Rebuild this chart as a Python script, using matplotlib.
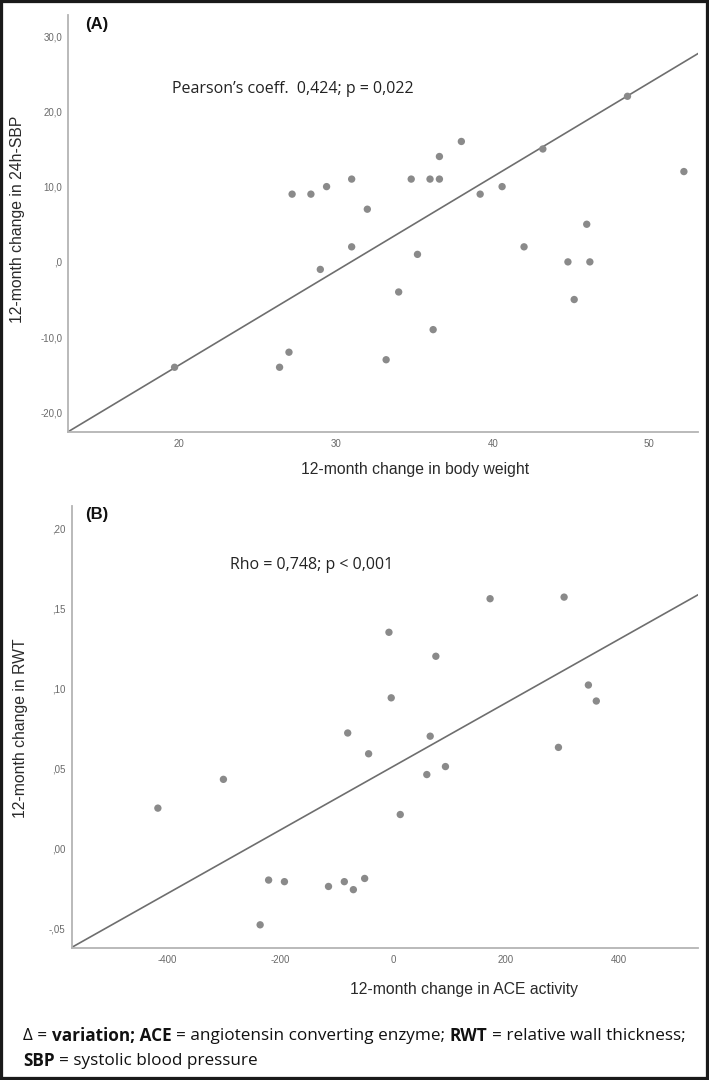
import matplotlib
matplotlib.use('Agg')
import matplotlib.pyplot as plt
from matplotlib.patches import Rectangle

# panel A data: 12-month change in body weight vs 24h-SBP
bw_change = [48.6, 38.0, 36.6, 43.2, 52.2, 27.2, 28.4, 29.4, 31.0, 34.8, 36.0, 36.6, 32.0, 39.2, 40.6,
             46.0, 31.0, 35.2, 42.0, 29.0, 44.8, 46.2, 34.0, 45.2, 36.2, 27.0, 26.4, 33.2, 19.7]
sbp_change = [22, 16, 14, 15, 12, 9, 9, 10, 11, 11, 11, 11, 7, 9, 10,
              5, 2, 1, 2, -1, 0, 0, -4, -5, -9, -12, -14, -13, -14]
line_a_slope = 1.25
line_a_intercept = -38.7
xticks_a = [20, 30, 40, 50]
xticklabels_a = ['20', '30', '40', '50']
yticks_a = [-20, -10, 0, 10, 20, 30]
yticklabels_a = ['-20,0', '-10,0', ',0', '10,0', '20,0', '30,0']

# panel B data: 12-month change in ACE activity vs RWT
ace_change = [172, 303, -7, 76, -3, 346, 360, -80, 66, 293, -43, 60, 93, -300, -416, 13,
              -220, -192, -114, -86, -70, -50, -235]
rwt_change = [0.156, 0.157, 0.135, 0.120, 0.094, 0.102, 0.092, 0.072, 0.070, 0.063, 0.059, 0.046,
              0.051, 0.043, 0.025, 0.021, -0.020, -0.021, -0.024, -0.021, -0.026, -0.019, -0.048]
line_b_slope = 0.000199
line_b_intercept = 0.051
xticks_b = [-400, -200, 0, 200, 400]
xticklabels_b = ['-400', '-200', '0', '200', '400']
yticks_b = [-0.05, 0.0, 0.05, 0.10, 0.15, 0.20]
yticklabels_b = ['-,05', ',00', ',05', ',10', ',15', ',20']

W, H = 709, 1080
fig = plt.figure(figsize=(W / 100, H / 100), dpi=100)
fig.patch.set_facecolor('white')

dot_color = '#8a8a8a'
line_color = '#6e6e6e'
spine_color = '#b4b4b4'
tick_color = '#6a6a6a'
label_color = '#2a2a2a'


def px_axes(left, top, right, bottom):
    return fig.add_axes([left / W, 1 - bottom / H, (right - left) / W, (bottom - top) / H])


def style(ax, xt, xtl, yt, ytl, ypad):
    for s in ['top', 'right']:
        ax.spines[s].set_visible(False)
    for s in ['left', 'bottom']:
        ax.spines[s].set_color(spine_color)
        ax.spines[s].set_linewidth(1.3)
    ax.set_xticks(xt)
    ax.set_xticklabels(xtl)
    ax.set_yticks(yt)
    ax.set_yticklabels(ytl)
    ax.tick_params(axis='both', length=0, labelsize=7, labelcolor=tick_color)
    ax.tick_params(axis='x', pad=5)
    ax.tick_params(axis='y', pad=ypad)
    for lab in ax.get_xticklabels() + ax.get_yticklabels():
        lab.set_family('Liberation Sans')


# panel A
axA = px_axes(68, 15, 698, 432)
axA.set_xlim(12.9, 53.1)
axA.set_ylim(-22.6, 32.8)
axA.axline((0, line_a_intercept), slope=line_a_slope, color=line_color, lw=1.2, zorder=2)
axA.scatter(bw_change, sbp_change, s=28, color=dot_color, edgecolors='none', zorder=3)
style(axA, xticks_a, xticklabels_a, yticks_a, yticklabels_a, 4)
axA.text(0.551, -0.091, '12-month change in body weight', transform=axA.transAxes,
         ha='center', va='center', fontsize=11.3, color=label_color, family='Liberation Sans')
axA.text(-0.0794, 0.511, '12-month change in 24h-SBP', transform=axA.transAxes, rotation=90,
         ha='center', va='center', fontsize=11.3, color=label_color, family='Liberation Sans')

# panel B
axB = px_axes(72, 506, 698, 948)
axB.set_xlim(-568, 540)
axB.set_ylim(-0.0625, 0.214)
axB.axline((0, line_b_intercept), slope=line_b_slope, color=line_color, lw=1.2, zorder=2)
axB.scatter(ace_change, rwt_change, s=28, color=dot_color, edgecolors='none', zorder=3)
style(axB, xticks_b, xticklabels_b, yticks_b, yticklabels_b, 5)
axB.text(0.626, -0.095, '12-month change in ACE activity', transform=axB.transAxes,
         ha='center', va='center', fontsize=11.3, color=label_color, family='Liberation Sans')
axB.text(-0.083, 0.498, '12-month change in RWT', transform=axB.transAxes, rotation=90,
         ha='center', va='center', fontsize=11.3, color=label_color, family='Liberation Sans')

# panel tags and stats
fig.text(97 / W, 1 - 25 / H, '(A)', ha='center', va='center', fontsize=12, fontweight='bold',
         family='Liberation Sans', color='#111111')
fig.text(97 / W, 1 - 515 / H, '(B)', ha='center', va='center', fontsize=12, fontweight='bold',
         family='Liberation Sans', color='#111111')
fig.text(172 / W, 1 - 89 / H, "Pearson\u2019s coeff.  0,424; p = 0,022", ha='left', va='center',
         fontsize=11.5, family='Open Sans', color='#222222')
fig.text(230 / W, 1 - 565 / H, 'Rho = 0,748; p < 0,001', ha='left', va='center',
         fontsize=11.5, family='Open Sans', color='#222222')

# footer with mixed weights
renderer = fig.canvas.get_renderer()


def text_width(s, weight, size):
    t = fig.text(0, 0, s, fontsize=size, fontweight=weight, family='Open Sans')
    w = t.get_window_extent(renderer).width
    t.remove()
    return w


def draw_runs(x0, y0, runs, size):
    sp = text_width('x x', 'normal', size) - text_width('xx', 'normal', size)
    x = x0
    for i, (s, weight) in enumerate(runs):
        if i > 0:
            x += sp
        fig.text(x / W, 1 - y0 / H, s, fontsize=size, fontweight=weight, family='Open Sans',
                 va='center', ha='left', color='#111111')
        x += text_width(s, weight, size)


fsize = 12.3
draw_runs(23, 1036, [('\u0394 =', 'normal'), ('variation; ACE', 'bold'),
                     ('= angiotensin converting enzyme;', 'normal'), ('RWT', 'bold'),
                     ('= relative wall thickness;', 'normal')], fsize)
draw_runs(23, 1061, [('SBP', 'bold'), ('= systolic blood pressure', 'normal')], fsize)

# dark frame around the whole picture
fig.patches.append(Rectangle((0, 0), 1, 1, transform=fig.transFigure, fill=False,
                             edgecolor='#1a1a1a', linewidth=4.5))

fig.savefig('out.png', dpi=100)
